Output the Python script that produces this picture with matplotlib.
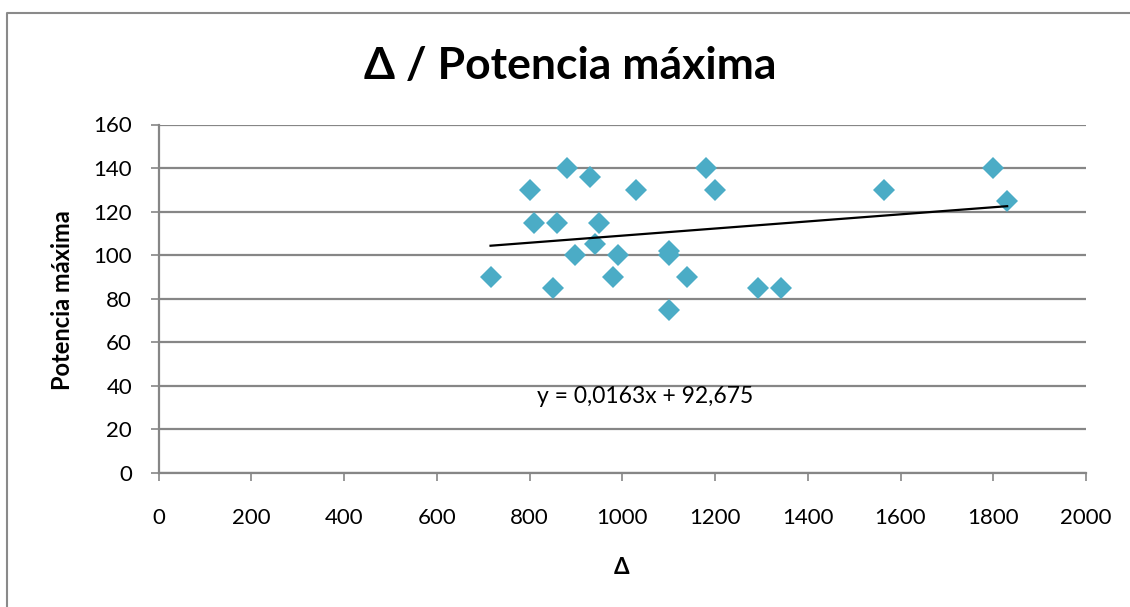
import matplotlib
matplotlib.use("Agg")
import matplotlib.pyplot as plt
from matplotlib.lines import Line2D
import numpy as np

# ---- data ----
delta = [716, 801, 810, 860, 880, 850, 930, 950, 942, 898, 990, 981, 1030,
         1100, 1100, 1100, 1140, 1180, 1200, 1292, 1342, 1564, 1800, 1830]
potencia = [90, 130, 115, 115, 140, 85, 136, 115, 105, 100, 100, 90, 130,
            102, 100, 75, 90, 140, 130, 85, 85, 130, 140, 125]
trend_slope = 0.0163
trend_intercept = 92.675
trend_label = "y = 0,0163x + 92,675"
title = "Δ / Potencia máxima"
xlabel = "Δ"
ylabel = "Potencia máxima"
xticks = list(range(0, 2001, 200))
yticks = list(range(0, 161, 20))

FONT = ['Lato', 'DejaVu Sans']
plt.rcParams['font.family'] = FONT

W, H = 1130, 607
fig = plt.figure(figsize=(W / 100, H / 100), dpi=100)

# outer chart border (top and left visible)
fig.add_artist(Line2D([7 / W, 7 / W, 1.0], [0.0, 1 - 12.5 / H, 1 - 12.5 / H],
                      transform=fig.transFigure, color='#8a8a8a', lw=1.5))

left, right, top, bottom = 158.5, 1086, 124.5, 473
ax = fig.add_axes([left / W, 1 - bottom / H, (right - left) / W, (bottom - top) / H])

grid_c = '#868686'
ax.set_xlim(0, 2000)
ax.set_ylim(0, 160)
ax.set_xticks(xticks)
ax.set_yticks(yticks)
ax.yaxis.grid(True, color=grid_c, lw=1.6)
ax.set_axisbelow(True)
for s in ['top', 'right']:
    ax.spines[s].set_visible(False)
for s in ['left', 'bottom']:
    ax.spines[s].set_color(grid_c)
    ax.spines[s].set_linewidth(1.6)
ax.tick_params(axis='both', direction='out', length=6, width=1.2, color=grid_c,
               labelsize=16, labelcolor='black')
ax.tick_params(axis='x', pad=19)
ax.tick_params(axis='y', pad=13)

ax.plot(delta, potencia, linestyle='none', marker='D', markersize=11,
        color='#4BACC6', markeredgewidth=0, zorder=3)

xs = np.array([min(delta), max(delta)])
ax.plot(xs, trend_slope * xs + trend_intercept, color='black', lw=1.6, zorder=4)

ax.text(1050, 35, trend_label, fontsize=16.5, ha='center', va='center')

fig.text(570 / W, 1 - 66 / H, title, fontsize=32, fontweight='bold',
         ha='center', va='center')
fig.text(622 / W, 1 - 568 / H, xlabel, fontsize=16, fontweight='bold',
         ha='center', va='center')
fig.text(62 / W, 1 - 300 / H, ylabel, fontsize=17, fontweight='bold',
         ha='center', va='center', rotation=90)

fig.savefig('out.png', dpi=100)
